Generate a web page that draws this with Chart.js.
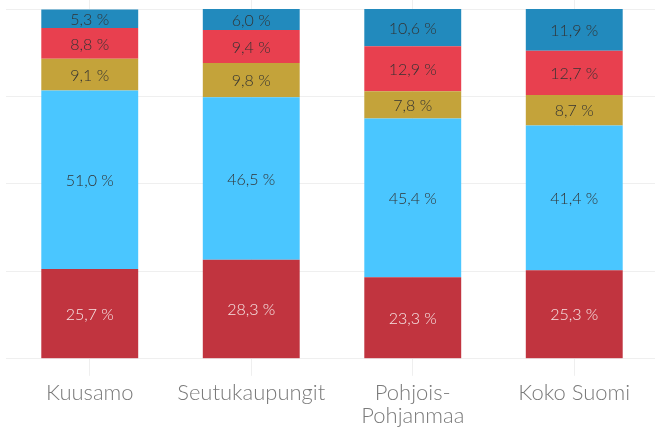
<!DOCTYPE html>
<html>
<head>
<meta charset="utf-8">
<script src="https://cdn.jsdelivr.net/npm/chart.js@4"></script>
<style>
  html, body { margin: 0; padding: 0; background: #fff; }
  #wrap { width: 655px; height: 433px; }
</style>
</head>
<body>
<div id="wrap"><canvas id="chart"></canvas></div>
<script>
// kategoriat ja sarjat (alhaalta ylös)
const categories = ['Kuusamo', 'Seutukaupungit', ['Pohjois-', 'Pohjanmaa'], 'Koko Suomi'];
const serie1 = [25.7, 28.3, 23.3, 25.3];
const serie2 = [51.0, 46.5, 45.4, 41.4];
const serie3 = [9.1, 9.8, 7.8, 8.7];
const serie4 = [8.8, 9.4, 12.9, 12.7];
const serie5 = [5.3, 6.0, 10.6, 11.9];
const yTicks = [0, 25, 50, 75, 100];

const colors = ['#c1343f', '#4ac6ff', '#c4a33a', '#e8404f', '#228abd'];
const textColors = ['#f6e4e4', '#333333', '#333333', '#333333', '#333333'];

// arvot palkkien sisään
const barLabels = {
  id: 'barLabels',
  afterDatasetsDraw(chart) {
    const ctx = chart.ctx;
    ctx.save();
    ctx.font = '300 16px Lato';
    ctx.textAlign = 'center';
    ctx.textBaseline = 'middle';
    chart.data.datasets.forEach((ds, i) => {
      const meta = chart.getDatasetMeta(i);
      ctx.fillStyle = textColors[i];
      meta.data.forEach((bar, j) => {
        const txt = ds.data[j].toFixed(1).replace('.', ',') + ' %';
        ctx.fillText(txt, bar.x, (bar.y + bar.base) / 2 + 1);
      });
    });
    ctx.restore();
  }
};

const series = [serie1, serie2, serie3, serie4, serie5];

new Chart(document.getElementById('chart'), {
  type: 'bar',
  data: {
    labels: categories,
    datasets: series.map((s, i) => ({
      label: 'sarja ' + (i + 1),
      data: s,
      backgroundColor: colors[i],
      borderWidth: 0,
      categoryPercentage: 0.6,
      barPercentage: 1
    }))
  },
  options: {
    responsive: true,
    maintainAspectRatio: false,
    animation: false,
    layout: { padding: { left: 6, right: 0, top: 0, bottom: 0 } },
    plugins: {
      legend: { display: false },
      tooltip: { enabled: false }
    },
    scales: {
      x: {
        stacked: true,
        border: { display: false },
        grid: { offset: false, color: '#efefef', lineWidth: 1, tickLength: 17 },
        ticks: {
          color: '#7a7a7a',
          padding: 5.5,
          font: { family: 'Lato', size: 22, weight: '300', lineHeight: 1.05 },
          maxRotation: 0,
          autoSkip: false
        }
      },
      y: {
        stacked: true,
        min: 0,
        max: 102.6,
        border: { display: false },
        grid: { color: '#efefef', lineWidth: 1, tickLength: 3 },
        ticks: { display: false },
        afterBuildTicks(scale) {
          scale.ticks = yTicks.map(v => ({ value: v }));
        }
      }
    }
  },
  plugins: [barLabels]
});
</script>
</body>
</html>
